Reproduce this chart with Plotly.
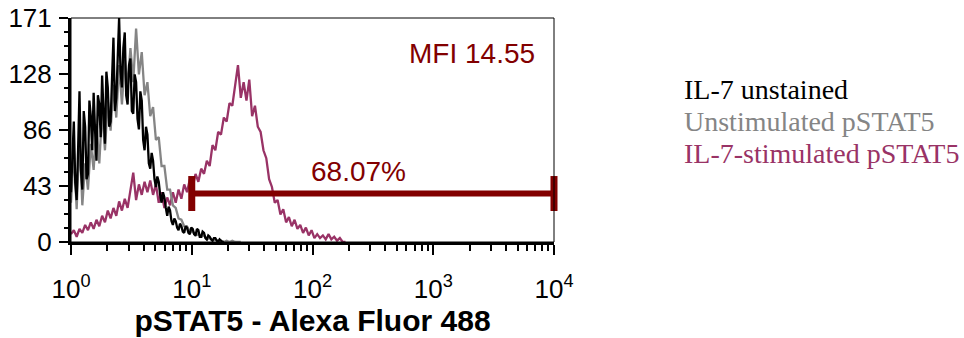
import plotly.graph_objects as go

# ---- data (flow cytometry histograms, 1024-channel log scale, 4 decades) ----
CH_PER_DECADE = 256

unstained_ch = list(range(0, 325, 3))
unstained_counts = [38, 60, 92, 45, 32, 70, 115, 55, 40, 100, 88, 48, 52, 108, 96, 70,
                    114, 85, 62, 112, 105, 80, 127, 98, 75, 130, 118, 88, 92, 125, 156, 100,
                    110, 140, 171, 130, 118, 148, 160, 112, 105, 135, 140, 100, 98, 128, 122, 94,
                    86, 115, 108, 78, 70, 88, 82, 60, 56, 68, 62, 48, 42, 50, 46, 36,
                    30, 38, 34, 26, 20, 27, 24, 16, 13, 18, 16, 11, 9, 14, 12, 8,
                    7, 12, 11, 7, 6, 11, 10, 6, 5, 10, 9, 4, 4, 8, 7, 3,
                    2, 5, 4, 2, 1, 3, 3, 1, 0, 2, 1, 0, 0]

unstim_ch = list(range(0, 361, 6))
unstim_counts = [30, 70, 25, 80, 28, 60, 40, 75, 55, 90, 60, 100, 70, 108, 85, 120,
                 95, 135, 105, 140, 118, 148, 122, 163, 128, 145, 112, 122, 96, 103, 78, 80,
                 58, 58, 40, 40, 28, 26, 18, 17, 12, 12, 8, 8, 5, 6, 4, 5, 2, 3, 1, 2,
                 1, 1, 0, 1, 0, 1, 0, 0, 0]

stim_ch = list(range(0, 583, 6))
stim_counts = [6, 9, 4, 10, 7, 13, 9, 15, 10, 17, 12, 20, 15, 24, 18, 26,
               20, 31, 24, 33, 26, 38, 53, 32, 44, 36, 46, 38, 47, 36, 44, 30,
               38, 26, 34, 28, 38, 30, 40, 33, 44, 38, 48, 42, 52, 46, 56, 52,
               62, 58, 74, 70, 84, 82, 95, 92, 106, 104, 120, 135, 110, 122, 108, 124,
               96, 104, 88, 84, 70, 64, 48, 42, 30, 32, 21, 25, 15, 19, 12, 17,
               10, 13, 7, 11, 5, 9, 3, 6, 3, 5, 2, 6, 2, 4, 1, 3, 0, 0]

series_names = ["IL-7 unstained", "Unstimulated pSTAT5", "IL-7-stimulated pSTAT5"]
series_colors = ["#000000", "#858585", "#993366"]

gate_lo, gate_hi, gate_y = 10, 10000, 37
gate_label = "68.07%"
mfi_label = "MFI 14.55"

y_tick_vals = [0, 42.75, 85.5, 128.25, 171]
y_tick_text = ["0", "43", "86", "128", "171"]
x_tick_vals = [1, 10, 100, 1000, 10000]
x_tick_text = ["10<sup>0</sup>", "10<sup>1</sup>", "10<sup>2</sup>", "10<sup>3</sup>", "10<sup>4</sup>"]
x_minor_vals = [m * d for d in (1, 10, 100, 1000) for m in range(2, 10)]

x_title = "pSTAT5 - Alexa Fluor 488"

GATE_COLOR = "#820000"


def to_fluor(chs):
    return [10 ** (c / CH_PER_DECADE) for c in chs]


fig = go.Figure()

for ch, cnt, name, col in [
    (stim_ch, stim_counts, series_names[2], series_colors[2]),
    (unstim_ch, unstim_counts, series_names[1], series_colors[1]),
    (unstained_ch, unstained_counts, series_names[0], series_colors[0]),
]:
    fig.add_trace(go.Scatter(x=to_fluor(ch), y=cnt, mode="lines", name=name,
                             line=dict(color=col, width=2.3), showlegend=False))

# gate bar with end caps
fig.add_trace(go.Scatter(
    x=[gate_lo, gate_hi], y=[gate_y, gate_y], mode="lines+markers",
    line=dict(color=GATE_COLOR, width=6),
    marker=dict(symbol="line-ns", size=25, line=dict(width=7, color=GATE_COLOR)),
    cliponaxis=False, showlegend=False, hoverinfo="skip"))

ARIAL = "Liberation Sans, Arial, sans-serif"
SERIF = "Liberation Serif, Times New Roman, serif"

fig.update_layout(
    width=964, height=338,
    margin=dict(l=71, r=410, t=18, b=96, autoexpand=False),
    paper_bgcolor="white", plot_bgcolor="white",
    font=dict(family=ARIAL, size=22, color="black"),
)

fig.update_xaxes(
    type="log", range=[0, 4], automargin=False,
    showgrid=False, zeroline=False,
    showline=True, linecolor="black", linewidth=3,
    tickmode="array", tickvals=x_tick_vals, ticktext=x_tick_text,
    ticks="outside", ticklen=10, tickwidth=2, tickcolor="black",
    ticklabelstandoff=12,
    tickfont=dict(family=ARIAL, size=26, color="black"),
    minor=dict(tickmode="array", tickvals=x_minor_vals, ticks="outside",
               ticklen=6, tickwidth=2, tickcolor="black", showgrid=False),
    title=dict(text="<b>" + x_title + "</b>", font=dict(family=ARIAL, size=30, color="black"),
               standoff=0),
)

fig.update_yaxes(
    range=[0, 171], automargin=False,
    showgrid=False, zeroline=False,
    showline=True, linecolor="black", linewidth=3,
    tickmode="array", tickvals=y_tick_vals, ticktext=y_tick_text,
    ticks="outside", ticklen=9, tickwidth=2, tickcolor="black",
    ticklabelstandoff=2,
    tickfont=dict(family=ARIAL, size=26, color="black"),
    minor=dict(tickmode="linear", tick0=0, dtick=171 / 16, ticks="outside",
               ticklen=4, tickwidth=2, tickcolor="black", showgrid=False),
)

# thin frame on top/right
fig.add_shape(type="rect", xref="x domain", yref="y domain", x0=0, x1=1, y0=0, y1=1,
              line=dict(color="black", width=1), layer="above")

fig.add_annotation(xref="paper", yref="paper", x=0.830, y=0.842, xanchor="center",
                   yanchor="middle", text=mfi_label, showarrow=False,
                   font=dict(family=ARIAL, size=28, color=GATE_COLOR))
fig.add_annotation(xref="paper", yref="paper", x=0.596, y=0.315, xanchor="center",
                   yanchor="middle", text=gate_label, showarrow=False,
                   font=dict(family=ARIAL, size=28, color=GATE_COLOR))

legend_y = [0.681, 0.536, 0.393]
for name, col, yy in zip(series_names, series_colors, legend_y):
    fig.add_annotation(xref="paper", yref="paper", x=1.265, y=yy, xanchor="left",
                       yanchor="middle", text=name, showarrow=False,
                       font=dict(family=SERIF, size=28, color=col))

fig.write_html("out.html")
